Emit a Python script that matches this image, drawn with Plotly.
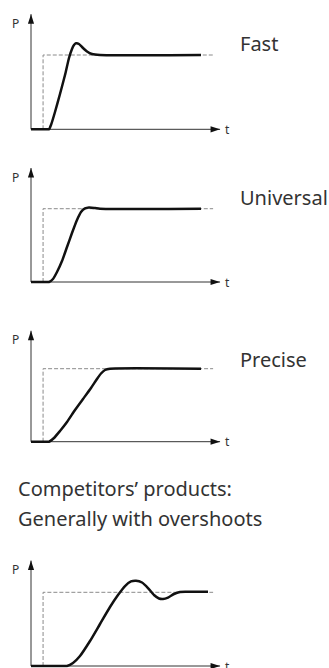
import plotly.graph_objects as go

W, H = 329, 668

# dashed set-point step, shared by all four sketches
step_t = [0.64, 0.64, 9.66]
step_p = [0, 1, 1]

labels = ["Fast", "Universal", "Precise", None]
competitor_text = ["Competitors’ products:", "Generally with overshoots"]

# pressure response curves (t, P)
fast_t = [0, 0.9, 0.955, 1.061, 1.273, 1.538, 1.804, 2.016, 2.175, 2.281, 2.387, 2.546, 2.759, 2.971, 3.236, 3.66, 9.019]
fast_p = [0, 0, 0, 0.058, 0.233, 0.475, 0.731, 0.96, 1.081, 1.135, 1.157, 1.148, 1.094, 1.047, 1.013, 1.0, 1.0]

univ_t = [0, 0.9, 0.955, 1.167, 1.379, 1.645, 1.91, 2.175, 2.44, 2.653, 2.865, 3.077, 3.395, 3.66, 9.019]
univ_p = [0, 0, 0, 0.041, 0.136, 0.286, 0.477, 0.668, 0.846, 0.955, 1.003, 1.016, 1.009, 1.0, 1.0]

prec_t = [0, 0.9, 0.955, 1.22, 1.538, 1.91, 2.334, 2.759, 3.183, 3.501, 3.714, 3.926, 4.191, 9.019]
prec_p = [0, 0, 0, 0.051, 0.147, 0.27, 0.434, 0.585, 0.736, 0.859, 0.934, 0.982, 1.0, 1.0]

comp_t = [0, 1.85, 1.91, 2.228, 2.599, 3.13, 3.66, 4.191, 4.615, 4.987, 5.305, 5.57, 5.889, 6.207, 6.525, 6.79, 7.003, 7.268, 7.586, 7.905, 8.223, 9.39]
comp_p = [0, 0, 0, 0.041, 0.136, 0.339, 0.57, 0.801, 0.963, 1.085, 1.147, 1.157, 1.133, 1.058, 0.963, 0.916, 0.909, 0.929, 0.977, 1.004, 1.008, 1.008]

curves = [(fast_t, fast_p), (univ_t, univ_p), (prec_t, prec_p), (comp_t, comp_p)]

# where each little diagram sits on the page (pixels)
panels = [
    dict(base=129.3, scale=74.3, top=1.55, label=1.157),
    dict(base=282.0, scale=73.3, top=1.555, label=1.146),
    dict(base=441.7, scale=73.0, top=1.52, label=1.13),
    dict(base=666.0, scale=73.7, top=1.43, label=None),
]
X0, XS = 31, 18.85   # pixel of the P axis, pixels per time unit
T_END = 10.03
XLO, XHI = -1.3, 15.6

TXT = "#333333"
FONT = "Noto Sans"

fig = go.Figure()
annotations = []

for i, (pan, (ct, cp), lab) in enumerate(zip(panels, curves, labels)):
    n = "" if i == 0 else str(i + 1)
    xa, ya = "x" + n, "y" + n
    b, s = pan["base"], pan["scale"]
    lo = -min(0.12, (H - b) / s - 0.002)
    hi = pan["top"] + 0.15
    fig.update_layout({
        "xaxis" + n: dict(domain=[(X0 + XLO * XS) / W, (X0 + XHI * XS) / W],
                          range=[XLO, XHI], visible=False, anchor=ya),
        "yaxis" + n: dict(domain=[1 - (b - lo * s) / H, 1 - (b - hi * s) / H],
                          range=[lo, hi], visible=False, anchor=xa),
    })

    # axes with arrow heads
    fig.add_trace(go.Scatter(x=[T_END, 0, 0], y=[0, 0, pan["top"]], mode="lines",
                             line=dict(color="#333333", width=1),
                             xaxis=xa, yaxis=ya, cliponaxis=False, hoverinfo="skip"))
    fig.add_trace(go.Scatter(x=[T_END, 0], y=[0, pan["top"]], mode="markers",
                             marker=dict(symbol="arrow", size=10, angle=[90, 0], color="#111111"),
                             xaxis=xa, yaxis=ya, cliponaxis=False, hoverinfo="skip"))
    # set point
    fig.add_trace(go.Scatter(x=step_t, y=step_p, mode="lines",
                             line=dict(color="#8a8a8a", width=1, dash="4px,2px"),
                             xaxis=xa, yaxis=ya, cliponaxis=False, hoverinfo="skip"))
    # response
    fig.add_trace(go.Scatter(x=ct, y=cp, mode="lines",
                             line=dict(color="#111111", width=2.5, shape="spline", smoothing=0.6),
                             xaxis=xa, yaxis=ya, cliponaxis=False, hoverinfo="skip"))

    annotations.append(dict(xref=xa, yref=ya, x=(15.5 - X0) / XS, y=pan["top"] - 9 / s,
                            text="P", showarrow=False, xanchor="center", yanchor="middle",
                            font=dict(size=12, color=TXT, family=FONT)))
    annotations.append(dict(xref=xa, yref=ya, x=(227.5 - X0) / XS, y=0,
                            text="t", showarrow=False, xanchor="center", yanchor="middle",
                            font=dict(size=12, color=TXT, family=FONT)))
    if lab:
        annotations.append(dict(xref=xa, yref=ya, x=(238 - X0) / XS, y=pan["label"],
                                text=lab, showarrow=False, xanchor="left", yanchor="middle",
                                font=dict(size=20, color=TXT, family=FONT)))

for txt, ypx in zip(competitor_text, [488.5, 518.5]):
    annotations.append(dict(xref="paper", yref="paper", x=16 / W, y=1 - ypx / H,
                            text=txt, showarrow=False, xanchor="left", yanchor="middle",
                            font=dict(size=20, color=TXT, family=FONT)))

fig.update_layout(width=W, height=H, autosize=False, showlegend=False,
                  margin=dict(l=0, r=0, t=0, b=0),
                  paper_bgcolor="white", plot_bgcolor="white",
                  annotations=annotations)

# page body has a default 8px margin; drop it so the figure fills the window
fig.write_html("out.html", config={"displayModeBar": False},
               post_script="document.body.style.margin='0';")
